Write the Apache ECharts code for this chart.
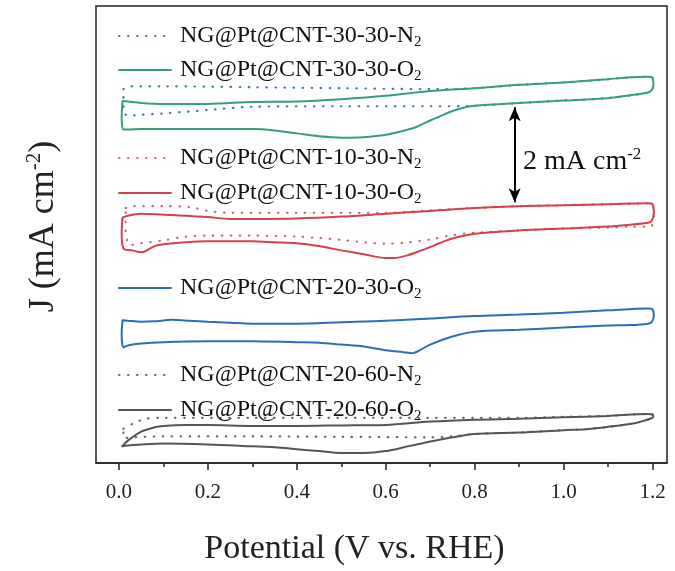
<!DOCTYPE html>
<html><head><meta charset="utf-8">
<script src="https://cdn.jsdelivr.net/npm/echarts@6/dist/echarts.min.js"></script>
<style>html,body{margin:0;padding:0;background:#fff}#chart{width:675px;height:571px}</style>
</head><body><div id="chart"></div>
<script>
// ---------- data (potential V vs. RHE, offset current density mA cm^-2) ----------
const xTicks = [0.0, 0.2, 0.4, 0.6, 0.8, 1.0, 1.2];
const xMinorTicks = [0.1, 0.3, 0.5, 0.7, 0.9, 1.1];

const names = [
  ['NG@Pt@CNT-30-30-', 'N', '2'],
  ['NG@Pt@CNT-30-30-', 'O', '2'],
  ['NG@Pt@CNT-10-30-', 'N', '2'],
  ['NG@Pt@CNT-10-30-', 'O', '2'],
  ['NG@Pt@CNT-20-30-', 'O', '2'],
  ['NG@Pt@CNT-20-60-', 'N', '2'],
  ['NG@Pt@CNT-20-60-', 'O', '2']
];

const cv3030N2 = [[0.01,7.86],[0.02,7.92],[0.05,7.92],[0.1,7.92],[0.3,7.90],[0.5,7.88],[0.7,7.86],[0.8,7.88],[0.9,7.95],[1.0,8.00],[1.1,8.07],[1.15,8.11],[1.19,8.12],[1.2,8.10],[1.202,7.94],[1.198,7.84],[1.19,7.79],[1.15,7.73],[1.1,7.67],[1.0,7.62],[0.9,7.57],[0.8,7.51],[0.7,7.50],[0.5,7.50],[0.3,7.49],[0.2,7.42],[0.1,7.35],[0.05,7.32],[0.02,7.30],[0.01,7.40],[0.01,7.86]];
const cv3030O2 = [[0.008,7.61],[0.02,7.60],[0.05,7.57],[0.1,7.55],[0.2,7.55],[0.3,7.59],[0.4,7.60],[0.5,7.65],[0.6,7.72],[0.7,7.82],[0.8,7.88],[0.9,7.95],[1.0,8.00],[1.1,8.07],[1.15,8.11],[1.19,8.12],[1.2,8.10],[1.202,7.94],[1.198,7.84],[1.19,7.79],[1.15,7.73],[1.1,7.67],[1.0,7.62],[0.9,7.57],[0.8,7.51],[0.77,7.46],[0.75,7.40],[0.72,7.28],[0.7,7.20],[0.67,7.07],[0.65,7.01],[0.6,6.90],[0.55,6.85],[0.5,6.84],[0.45,6.87],[0.4,6.93],[0.35,6.99],[0.3,7.02],[0.2,7.02],[0.1,7.02],[0.05,7.02],[0.02,7.01],[0.01,7.01],[0.006,7.26],[0.008,7.61]];
const cv1030N2 = [[0.015,5.36],[0.03,5.40],[0.1,5.40],[0.16,5.38],[0.2,5.30],[0.25,5.26],[0.4,5.26],[0.6,5.26],[0.7,5.31],[0.8,5.36],[0.9,5.40],[1.0,5.42],[1.1,5.44],[1.19,5.46],[1.2,5.44],[1.203,5.20],[1.198,4.98],[1.19,4.97],[1.15,4.97],[1.1,4.95],[1.0,4.93],[0.9,4.89],[0.8,4.84],[0.75,4.79],[0.7,4.70],[0.65,4.64],[0.6,4.61],[0.5,4.69],[0.45,4.73],[0.4,4.76],[0.3,4.78],[0.2,4.78],[0.15,4.76],[0.1,4.68],[0.05,4.62],[0.025,4.58],[0.015,4.90],[0.015,5.36]];
const cv1030O2 = [[0.008,5.16],[0.02,5.20],[0.05,5.24],[0.1,5.22],[0.15,5.20],[0.2,5.17],[0.25,5.13],[0.3,5.13],[0.4,5.14],[0.5,5.18],[0.6,5.24],[0.7,5.30],[0.8,5.36],[0.9,5.40],[1.0,5.42],[1.1,5.44],[1.19,5.46],[1.2,5.44],[1.203,5.26],[1.198,5.09],[1.19,5.05],[1.15,5.01],[1.1,4.97],[1.0,4.93],[0.9,4.89],[0.8,4.82],[0.75,4.72],[0.72,4.62],[0.7,4.54],[0.68,4.47],[0.65,4.37],[0.62,4.31],[0.6,4.31],[0.55,4.39],[0.5,4.47],[0.45,4.56],[0.4,4.62],[0.35,4.64],[0.3,4.66],[0.2,4.66],[0.15,4.64],[0.1,4.60],[0.08,4.56],[0.05,4.43],[0.03,4.47],[0.01,4.51],[0.006,4.85],[0.008,5.16]];
const cv2030O2 = [[0.008,3.00],[0.02,2.99],[0.05,2.97],[0.08,2.98],[0.12,3.01],[0.16,2.99],[0.2,2.97],[0.25,2.95],[0.3,2.93],[0.4,2.93],[0.5,2.96],[0.6,2.99],[0.7,3.04],[0.8,3.09],[0.9,3.12],[1.0,3.16],[1.1,3.21],[1.19,3.25],[1.2,3.23],[1.203,3.09],[1.198,2.96],[1.19,2.93],[1.15,2.90],[1.1,2.89],[1.0,2.85],[0.9,2.80],[0.8,2.76],[0.75,2.66],[0.7,2.49],[0.68,2.39],[0.66,2.31],[0.64,2.33],[0.6,2.37],[0.55,2.45],[0.5,2.49],[0.45,2.53],[0.4,2.54],[0.3,2.56],[0.2,2.56],[0.1,2.54],[0.05,2.51],[0.02,2.47],[0.01,2.43],[0.006,2.70],[0.008,3.00]];
const cv2060N2 = [[0.01,0.72],[0.03,0.82],[0.06,0.93],[0.1,0.95],[0.3,0.95],[0.5,0.95],[0.7,0.95],[0.8,0.95],[0.9,0.95],[1.0,0.97],[1.1,0.99],[1.19,1.03],[1.2,1.02],[1.202,0.97],[1.195,0.93],[1.17,0.86],[1.15,0.82],[1.1,0.76],[1.05,0.71],[1.0,0.69],[0.9,0.64],[0.8,0.61],[0.75,0.56],[0.7,0.54],[0.5,0.55],[0.3,0.56],[0.1,0.56],[0.03,0.54],[0.01,0.52],[0.01,0.72]];
const cv2060O2 = [[0.007,0.35],[0.02,0.47],[0.05,0.66],[0.08,0.75],[0.1,0.78],[0.15,0.80],[0.2,0.80],[0.3,0.78],[0.4,0.78],[0.5,0.79],[0.6,0.80],[0.7,0.87],[0.8,0.91],[0.9,0.93],[1.0,0.96],[1.1,0.99],[1.19,1.03],[1.2,1.02],[1.202,0.97],[1.195,0.93],[1.17,0.86],[1.15,0.82],[1.1,0.76],[1.05,0.71],[1.0,0.69],[0.9,0.64],[0.8,0.61],[0.75,0.54],[0.7,0.45],[0.65,0.35],[0.6,0.25],[0.55,0.21],[0.5,0.21],[0.45,0.25],[0.4,0.29],[0.35,0.33],[0.3,0.35],[0.2,0.39],[0.1,0.41],[0.05,0.39],[0.02,0.37],[0.007,0.35]];

const scaleBarV = 0.89;          // potential where the scale bar sits
const scaleBarJ = [5.48, 7.48];  // 2 mA cm^-2 span
const scaleBarText = ['2 mA cm', '-2'];

// ---------- styling ----------
const FONT = "'Liberation Serif', 'Times New Roman', serif";
const curveData = [cv3030N2, cv3030O2, cv1030N2, cv1030O2, cv2030O2, cv2060N2, cv2060O2];
const colors = ['#3f77bd', '#36a07b', '#d9646c', '#d6404a', '#2d6fb6', '#666666', '#555555'];
const dotted = [true, false, true, false, false, true, false];
const legendTops = [24, 58, 146, 181, 276, 363, 398];

const fullName = n => n[0] + n[1] + n[2];

const series = curveData.map((d, i) => ({
  type: 'line',
  name: fullName(names[i]),
  data: d,
  symbol: 'none',
  showSymbol: false,
  smooth: 0.3,
  silent: true,
  z: dotted[i] ? 2 : 3,
  itemStyle: { color: colors[i] },
  lineStyle: { color: colors[i], width: dotted[i] ? 2.2 : 2, type: dotted[i] ? [0.5, 8.5] : 'solid', cap: 'round' }
}));

// scale bar (double arrow) via markLine, in data coordinates
series.push({
  type: 'line', name: 'scalebar', data: [], symbol: 'none', silent: true,
  markLine: {
    silent: true, symbol: ['arrow', 'arrow'], symbolSize: [9, 14], label: { show: false },
    lineStyle: { color: '#000', width: 2, type: 'solid' },
    data: [[{ coord: [scaleBarV, scaleBarJ[0]] }, { coord: [scaleBarV, scaleBarJ[1]] }]]
  }
});

const legendRich = {
  a: { fontFamily: FONT, fontSize: 24, color: '#111', lineHeight: 28 },
  s: { fontFamily: FONT, fontSize: 15, color: '#111', lineHeight: 14, verticalAlign: 'bottom' }
};

const legends = names.map((n, i) => ({
  data: [fullName(n)],
  left: 118, top: legendTops[i], padding: 0,
  itemWidth: 52, itemHeight: 14, selectedMode: false,
  itemStyle: { opacity: 0 },
  formatter: () => '{a|' + n[0] + n[1] + '}{s|' + n[2] + '}',
  textStyle: { rich: legendRich, padding: [0, 0, 0, 4] }
}));

const chart = echarts.init(document.getElementById('chart'), null, { renderer: 'canvas' });
chart.setOption({
  animation: false,
  backgroundColor: '#fff',
  grid: { left: 96, right: 8, top: 6, bottom: 99, show: true, borderColor: '#222', borderWidth: 1.5, backgroundColor: 'transparent' },
  legend: legends,
  xAxis: [{
    type: 'value', min: -0.0517, max: 1.2326,
    axisLine: { show: true, lineStyle: { color: '#222', width: 1.5 } },
    axisTick: { show: true, customValues: xTicks, length: 7, lineStyle: { color: '#222', width: 1.5 } },
    axisLabel: { customValues: xTicks, formatter: v => v.toFixed(1), fontFamily: FONT, fontSize: 21, color: '#222', margin: 19 },
    splitLine: { show: false },
    name: 'Potential (V vs. RHE)', nameLocation: 'middle', nameGap: 69,
    nameTextStyle: { fontFamily: FONT, fontSize: 34, color: '#222', padding: [0, 54, 0, 0] }
  }, {
    type: 'value', min: -0.0517, max: 1.2326, position: 'bottom',
    axisLine: { show: false },
    axisTick: { show: true, customValues: xMinorTicks, length: 4, lineStyle: { color: '#222', width: 1.5 } },
    axisLabel: { show: false }, splitLine: { show: false }
  }],
  yAxis: {
    type: 'value', min: 0, max: 9.608,
    axisLine: { show: false }, axisTick: { show: false }, axisLabel: { show: false }, splitLine: { show: false },
    name: '{a|J (mA cm}{s|-2}{a|)}', nameLocation: 'middle', nameGap: 32, nameRotate: 90,
    nameTextStyle: {
      padding: [0, 0, 0, 16],
      rich: {
        a: { fontFamily: FONT, fontSize: 36, color: '#222', lineHeight: 40 },
        s: { fontFamily: FONT, fontSize: 21, color: '#222', lineHeight: 24, verticalAlign: 'top' }
      }
    }
  },
  graphic: [{
    type: 'text', left: 523, top: 146, silent: true,
    style: {
      text: '{a|' + scaleBarText[0] + '}{s|' + scaleBarText[1] + '}',
      rich: {
        a: { fontFamily: FONT, fontSize: 28, fill: '#111', lineHeight: 32 },
        s: { fontFamily: FONT, fontSize: 17, fill: '#111', lineHeight: 20, verticalAlign: 'top' }
      }
    }
  }],
  series: series
});
</script>
</body></html>
